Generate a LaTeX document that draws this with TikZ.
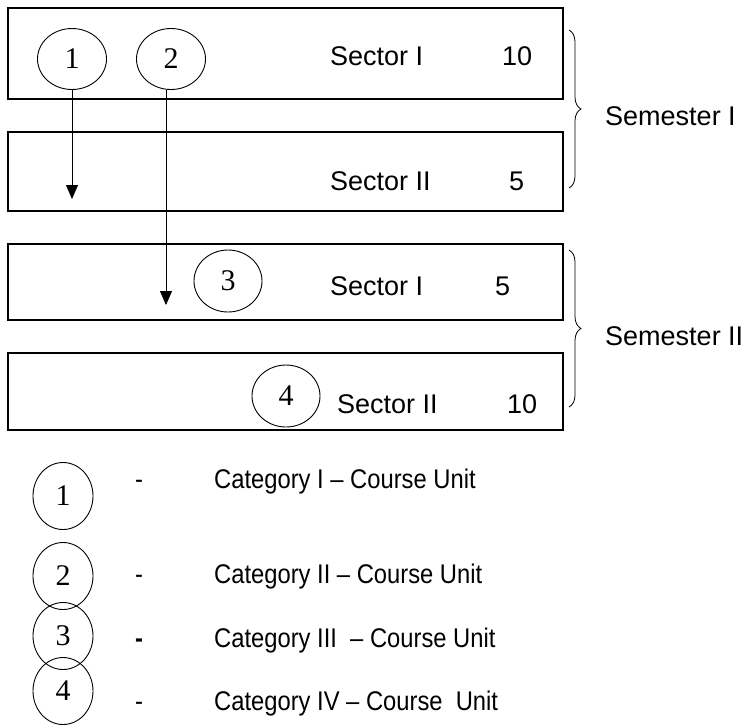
\documentclass[tikz,border=0pt]{standalone}
\usepackage{fontspec}
\setmainfont{Liberation Sans}
\newfontfamily\digitfont{Liberation Serif}
\newfontfamily\legendfont[FakeStretch=0.88]{Liberation Sans}
\usetikzlibrary{positioning,shapes,arrows,decorations.pathreplacing}
\tikzstyle{sector}=[rectangle, draw=black, line width=1.6pt, anchor=north west, minimum width=555pt, inner sep=0pt]
\tikzstyle{unit}=[ellipse, draw=black, line width=0.9pt, minimum width=69pt, minimum height=61pt, inner sep=0pt, font=\fontsize{30}{30}\digitfont]
\tikzstyle{keyunit}=[unit, minimum width=60pt, minimum height=67pt]
\tikzstyle{txt}=[font=\fontsize{27}{27}\selectfont, anchor=base west, inner sep=0pt]
\tikzstyle{keytxt}=[font=\fontsize{27}{27}\legendfont, anchor=base west, inner sep=0pt]
\tikzstyle{dashtxt}=[font=\fontsize{27}{27}\legendfont, anchor=base, inner sep=0pt]
\tikzstyle{semester}=[draw=black, line width=0.8pt, decorate, decoration={brace, amplitude=12pt}]
\usetikzlibrary{arrows.meta}
\tikzset{>={Triangle[length=14pt,width=12pt]}}

\begin{document}
\begin{tikzpicture}[x=1pt, y=-1pt]
        \useasboundingbox (0,0) rectangle (751,726);

        % semester I
        \node(s1)[sector, minimum height=91pt] at (7,7) {};
        \node(s2)[sector, minimum height=79pt] at (7,131) {};
        \node(s1name)[txt] at (330,65) {Sector I};
        \node(s1val)[txt] at (502,65) {10};
        \node(s2name)[txt] at (330,190) {Sector II};
        \node(s2val)[txt] at (509,190) {5};

        % semester II
        \node(s3)[sector, minimum height=76pt] at (7,243) {};
        \node(s4)[sector, minimum height=77pt] at (7,352) {};
        \node(s3name)[txt] at (330,295) {Sector I};
        \node(s3val)[txt] at (495,295) {5};
        \node(s4name)[txt] at (337,413) {Sector II};
        \node(s4val)[txt] at (507,413) {10};

        \node(c1)[unit] at (72,59) {1};
        \node(c2)[unit] at (171,59) {2};
        \node(c3)[unit, minimum width=68pt, minimum height=62pt] at (228,281) {3};
        \node(c4)[unit, minimum width=68pt, minimum height=62pt] at (286,396) {4};

        \coordinate (t1) at (72,199);
        \coordinate (t2) at (166,305);
        \draw[->, line width=0.8pt] (c1) -- (t1);
        \draw[->, line width=0.8pt] ([xshift=-5pt]c2.south) -- (t2);

        \coordinate (b1top) at (569,30);
        \coordinate (b1bot) at (569,188);
        \draw[semester] (b1top) -- (b1bot);
        \node(sem1)[txt] at (605,125) {Semester I};

        \coordinate (b2top) at (569,250);
        \coordinate (b2bot) at (569,407);
        \draw[semester] (b2top) -- (b2bot);
        \node(sem2)[txt] at (605,345) {Semester II};

        % legend
        \node(k1)[keyunit] at (63,496) {1};
        \node(k2)[keyunit] at (63,576) {2};
        \node(k3)[keyunit] at (63,636) {3};
        \node(k4)[keyunit] at (63,691) {4};

        \node(d1)[dashtxt] at (139,488) {-};
        \node(d2)[dashtxt] at (139,583) {-};
        \node(d3)[dashtxt] at (139,647) {\bfseries -};
        \node(d4)[dashtxt] at (139,710) {-};

        \node(k1txt)[keytxt] at (214,488) {Category I – Course Unit};
        \node(k2txt)[keytxt] at (214,583) {Category II – Course Unit};
        \node(k3txt)[keytxt] at (214,647) {Category III \ – Course Unit};
        \node(k4txt)[keytxt] at (214,710) {Category IV – Course \ Unit};
\end{tikzpicture}
\end{document}
